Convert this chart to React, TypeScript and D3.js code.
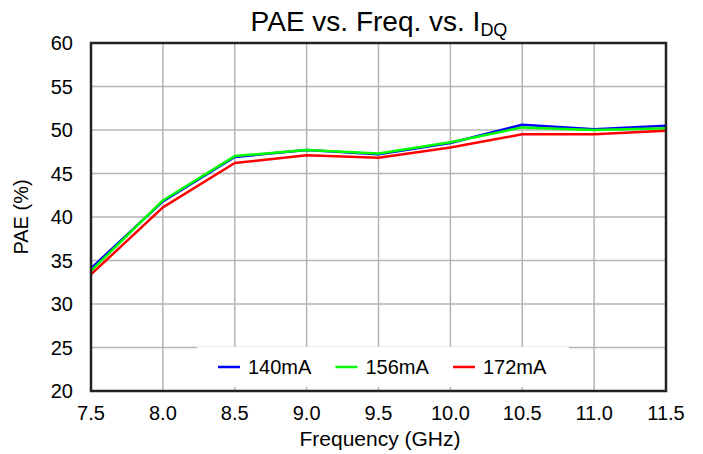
import React from "react";
import * as d3 from "d3";

const freqs = [7.5, 8.0, 8.5, 9.0, 9.5, 10.0, 10.5, 11.0, 11.5];
const pae140 = [34.1, 41.8, 46.9, 47.7, 47.2, 48.5, 50.6, 50.1, 50.5];
const pae156 = [33.8, 41.9, 47.0, 47.7, 47.3, 48.6, 50.3, 50.0, 50.2];
const pae172 = [33.4, 41.1, 46.2, 47.1, 46.8, 48.0, 49.5, 49.5, 49.9];
const xTicks = [7.5, 8.0, 8.5, 9.0, 9.5, 10.0, 10.5, 11.0, 11.5];
const yTicks = [20, 25, 30, 35, 40, 45, 50, 55, 60];

const series = [
  { name: "140mA", values: pae140, color: "#0000ff" },
  { name: "156mA", values: pae156, color: "#00ff00" },
  { name: "172mA", values: pae172, color: "#ff0000" },
];

const font = "'Liberation Sans', Arial, sans-serif";

export default function App() {
  const W = 703, H = 454;
  const left = 91, right = 666, top = 43, bottom = 391;

  const x = d3.scaleLinear().domain([7.5, 11.5]).range([left, right]);
  const y = d3.scaleLinear().domain([20, 60]).range([bottom, top]);

  const line = d3.line<number>()
    .x((_, i) => x(freqs[i]))
    .y(d => y(d));

  const legX = 197, legY = 347, legW = 372, legH = 40;

  return (
    <svg width={W} height={H} style={{ position: "absolute", left: 0, top: 0 }}>
      <rect width={W} height={H} fill="#fff" />
      {/* grid */}
      {xTicks.map(t => (
        <line key={"gx" + t} x1={x(t)} x2={x(t)} y1={top} y2={bottom} stroke="#b4b4b4" strokeWidth={1.5} />
      ))}
      {yTicks.map(t => (
        <line key={"gy" + t} x1={left} x2={right} y1={y(t)} y2={y(t)} stroke="#b4b4b4" strokeWidth={1.5} />
      ))}
      {/* data lines */}
      {series.map(s => (
        <path key={s.name} d={line(s.values) || ""} fill="none" stroke={s.color} strokeWidth={2.5} strokeLinejoin="round" />
      ))}
      {/* legend */}
      <rect x={legX} y={legY} width={legW} height={legH} fill="#fff" />
      {series.map((s, i) => {
        const lx = legX + 21 + i * 117.5;
        return (
          <g key={"leg" + s.name}>
            <line x1={lx} x2={lx + 22} y1={legY + 20} y2={legY + 20} stroke={s.color} strokeWidth={2.5} />
            <text x={lx + 30} y={legY + 27} fontFamily={font} fontSize={20} fill="#000">{s.name}</text>
          </g>
        );
      })}
      {/* frame */}
      <rect x={left} y={top} width={right - left} height={bottom - top} fill="none" stroke="#222" strokeWidth={2.5} />
      {/* tick labels */}
      {yTicks.map(t => (
        <text key={"yl" + t} x={73} y={y(t) + 7} textAnchor="end" fontFamily={font} fontSize={20} fill="#000">{t}</text>
      ))}
      {xTicks.map(t => (
        <text key={"xl" + t} x={x(t)} y={420} textAnchor="middle" fontFamily={font} fontSize={20} fill="#000">{t.toFixed(1)}</text>
      ))}
      {/* titles */}
      <text x={379} y={31} textAnchor="middle" fontFamily={font} fontSize={28} fill="#000">
        PAE vs. Freq. vs. I<tspan fontSize={18} dy={5}>DQ</tspan>
      </text>
      <text x={380} y={446} textAnchor="middle" fontFamily={font} fontSize={21} fill="#000">Frequency (GHz)</text>
      <text transform={`translate(28, ${(top + bottom) / 2}) rotate(-90)`} textAnchor="middle" fontFamily={font} fontSize={20} fill="#000">PAE (%)</text>
    </svg>
  );
}
